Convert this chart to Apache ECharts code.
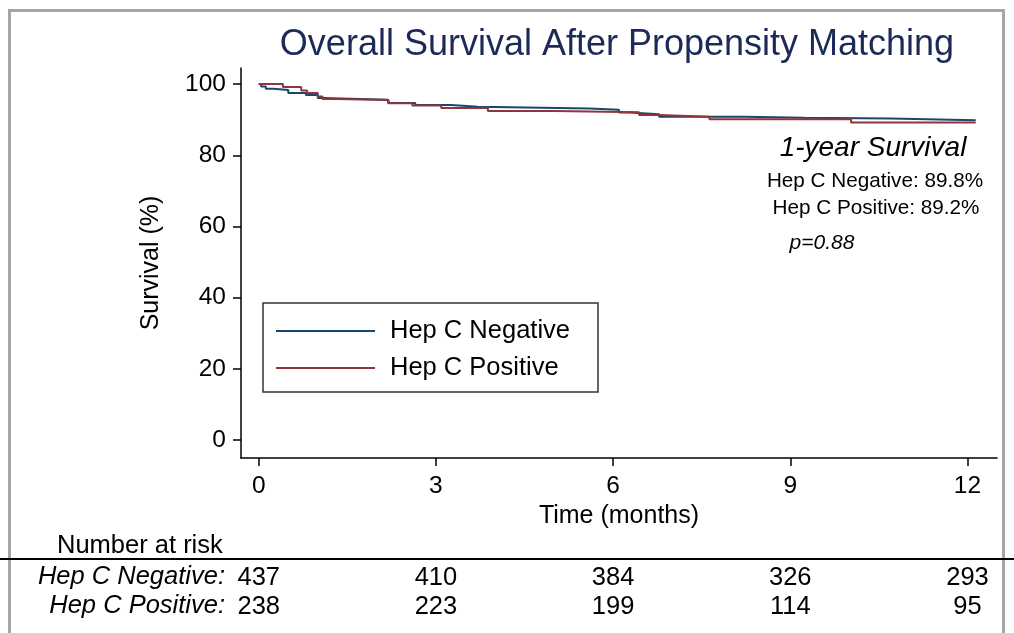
<!DOCTYPE html>
<html>
<head>
<meta charset="utf-8">
<script src="https://cdn.jsdelivr.net/npm/echarts@6/dist/echarts.min.js"></script>
<style>
  html, body { margin: 0; padding: 0; background: #fff; }
  #chart { width: 1014px; height: 633px; }
</style>
</head>
<body>
<div id="chart"></div>
<script>
// ---- data ----
const negTimes = [0, 0.04, 0.12, 0.25, 0.5, 0.8, 1.0, 1.1, 2.19, 2.65, 3.26, 3.71, 5.6, 6.1, 6.28, 6.78, 8.22, 9.23, 10.7, 12.14];
const negSurv  = [100, 99.3, 98.7, 98.3, 97.5, 96.9, 96.1, 95.6, 94.7, 94.1, 93.6, 93.1, 92.8, 92.0, 91.5, 90.8, 90.5, 90.3, 89.8, 89.8];
const posTimes = [0, 0.41, 0.72, 0.82, 1.0, 1.08, 1.3, 2.2, 2.6, 3.09, 3.88, 5.0, 6.44, 6.78, 7.63, 10.03, 12.14];
const posSurv  = [100, 99.2, 98.2, 97.5, 96.5, 95.8, 95.5, 94.6, 94.0, 93.3, 92.4, 92.1, 91.3, 90.8, 90.1, 89.2, 89.2];
const xTicks = [0, 3, 6, 9, 12];
const yTicks = [0, 20, 40, 60, 80, 100];
const riskNeg = [437, 410, 384, 326, 293];
const riskPos = [238, 223, 199, 114, 95];
const seriesNames = ['Hep C Negative', 'Hep C Positive'];
const survivalLines = ['Hep C Negative: 89.8%', 'Hep C Positive: 89.2%'];

const FONT = 'Liberation Sans, Arial, Helvetica, sans-serif';
const BLUE = '#1a476f';
const RED = '#90353b';

const zip = (t, s) => t.map((v, i) => [v, s[i]]);
const riskFormatter = arr => v => {
  const i = xTicks.indexOf(Math.round(v));
  return i >= 0 ? String(arr[i]) : '';
};

const chart = echarts.init(document.getElementById('chart'), null, { renderer: 'canvas' });

const riskAxis = (arr, offset) => ({
  type: 'value', gridIndex: 0, position: 'bottom', offset: offset,
  min: -0.3, max: 12.5,
  axisLine: { show: false }, axisTick: { show: false }, splitLine: { show: false },
  axisLabel: {
    customValues: xTicks, formatter: riskFormatter(arr),
    margin: 8, fontSize: 25.5, color: '#000', fontFamily: FONT
  }
});

chart.setOption({
  backgroundColor: '#fff',
  animation: false,
  grid: { left: 241, right: 17, top: 68, bottom: 175, containLabel: false },
  legend: {
    orient: 'vertical', left: 263, top: 303,
    data: seriesNames,
    icon: 'path://M0,0 L99,0 L99,2 L0,2 Z',
    borderColor: '#333', borderWidth: 1.5, backgroundColor: '#fff',
    padding: [15, 28, 11, 13], itemGap: 11,
    itemWidth: 99, itemHeight: 24,
    textStyle: { fontSize: 25.5, color: '#000', fontFamily: FONT, padding: [0, 0, 0, 10] }
  },
  xAxis: [
    {
      type: 'value', min: -0.3, max: 12.5,
      name: 'Time (months)', nameLocation: 'middle', nameGap: 45,
      nameTextStyle: { fontSize: 25, color: '#000', fontFamily: FONT },
      axisLine: { show: true, onZero: false, lineStyle: { color: '#000', width: 1.5 } },
      axisTick: { show: true, customValues: xTicks, length: 8, lineStyle: { color: '#000', width: 1.5 } },
      axisLabel: { customValues: xTicks, margin: 16, fontSize: 24.5, color: '#000', fontFamily: FONT },
      splitLine: { show: false }
    },
    riskAxis(riskNeg, 99),
    riskAxis(riskPos, 128)
  ],
  yAxis: {
    type: 'value', min: -5, max: 104.5,
    name: 'Survival (%)', nameLocation: 'middle', nameGap: 77, nameRotate: 90,
    nameTextStyle: { fontSize: 25, color: '#000', fontFamily: FONT },
    axisLine: { show: true, onZero: false, lineStyle: { color: '#000', width: 1.5 } },
    axisTick: { show: true, customValues: yTicks, length: 8, lineStyle: { color: '#000', width: 1.5 } },
    axisLabel: { customValues: yTicks, margin: 15, fontSize: 24.5, color: '#000', fontFamily: FONT },
    splitLine: { show: false }
  },
  series: [
    {
      name: seriesNames[0], type: 'line', step: 'end', showSymbol: false, symbol: 'none',
      data: zip(negTimes, negSurv),
      lineStyle: { color: BLUE, width: 2 }, itemStyle: { color: BLUE }
    },
    {
      name: seriesNames[1], type: 'line', step: 'end', showSymbol: false, symbol: 'none',
      data: zip(posTimes, posSurv),
      lineStyle: { color: RED, width: 2 }, itemStyle: { color: RED }
    }
  ],
  graphic: [
    { type: 'polyline', z: -10, silent: true,
      shape: { points: [[9.5, 640], [9.5, 10.5], [1003.5, 10.5], [1003.5, 640]] },
      style: { stroke: '#a6a6a6', lineWidth: 3, fill: null } },
    { type: 'text', x: 617, y: 45, silent: true,
      style: { text: 'Overall Survival After Propensity Matching', fontSize: 36, fill: '#1b2a57',
               fontFamily: FONT, align: 'center', verticalAlign: 'middle' } },
    { type: 'text', x: 873, y: 148, silent: true,
      style: { text: '1-year Survival', fontSize: 28, fontStyle: 'italic', fill: '#000',
               fontFamily: FONT, align: 'center', verticalAlign: 'middle' } },
    { type: 'text', x: 875, y: 181, silent: true,
      style: { text: survivalLines[0], fontSize: 20.7, fill: '#000',
               fontFamily: FONT, align: 'center', verticalAlign: 'middle' } },
    { type: 'text', x: 876, y: 208, silent: true,
      style: { text: survivalLines[1], fontSize: 20.7, fill: '#000',
               fontFamily: FONT, align: 'center', verticalAlign: 'middle' } },
    { type: 'text', x: 822, y: 243, silent: true,
      style: { text: 'p=0.88', fontSize: 21, fontStyle: 'italic', fill: '#000',
               fontFamily: FONT, align: 'center', verticalAlign: 'middle' } },
    { type: 'text', x: 57, y: 546, silent: true,
      style: { text: 'Number at risk', fontSize: 25.5, fill: '#000',
               fontFamily: FONT, align: 'left', verticalAlign: 'middle' } },
    { type: 'line', silent: true,
      shape: { x1: 0, y1: 559, x2: 1014, y2: 559 },
      style: { stroke: '#000', lineWidth: 2 } },
    { type: 'text', x: 225, y: 577, silent: true,
      style: { text: seriesNames[0] + ':', fontSize: 25.5, fontStyle: 'italic', fill: '#000',
               fontFamily: FONT, align: 'right', verticalAlign: 'middle' } },
    { type: 'text', x: 225, y: 606, silent: true,
      style: { text: seriesNames[1] + ':', fontSize: 25.5, fontStyle: 'italic', fill: '#000',
               fontFamily: FONT, align: 'right', verticalAlign: 'middle' } }
  ]
});
</script>
</body>
</html>
